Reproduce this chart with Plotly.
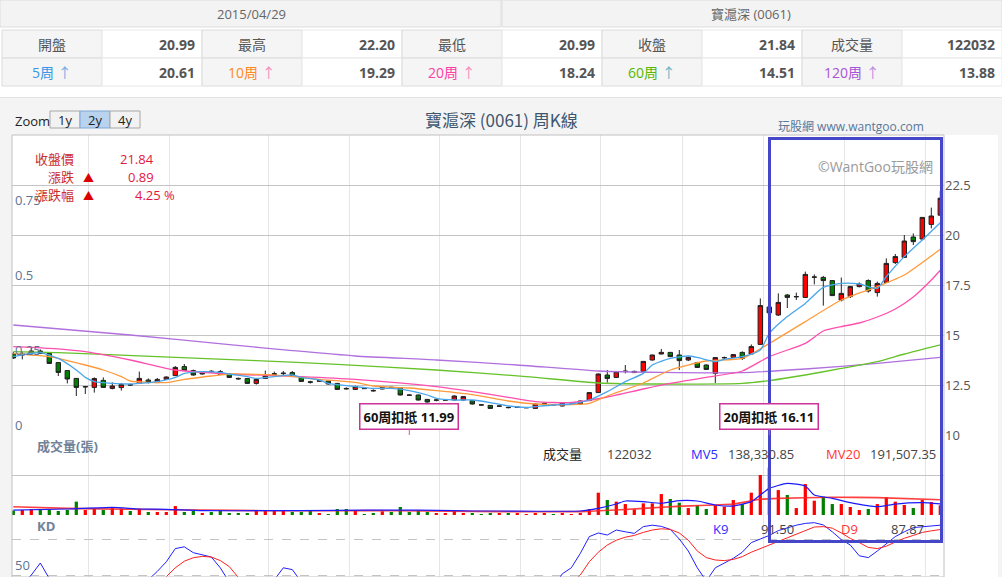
import plotly.graph_objects as go

# 寶滬深 (0061) 周K線 - 2y window, 104 weeks, index 0 = oldest week
opens = [14.05, 14.00, 14.08, 14.20, 14.08, 13.62, 13.22, 12.83, 12.40, 12.38,
         12.73, 12.33, 12.37, 12.52, 12.58, 12.75, 12.62, 12.78, 12.97, 13.42,
         13.22, 13.05, 13.19, 13.17, 13.03, 12.83, 12.82, 12.58, 12.83, 13.04,
         13.07, 13.12, 12.88, 12.66, 12.69, 12.70, 12.58, 12.33, 12.28, 12.33,
         12.23, 12.30, 12.39, 12.37, 12.00, 12.00, 11.78, 11.74, 11.74, 11.75,
         11.75, 11.72, 11.51, 11.48, 11.44, 11.38, 11.38, 11.36, 11.33, 11.57,
         11.51, 11.45, 11.61, 11.55, 11.72, 12.12, 13.00, 12.88, 13.17, 13.12,
         13.18, 13.75, 14.05, 14.13, 14.00, 13.75, 13.62, 13.50, 13.08, 13.86,
         13.88, 14.13, 14.05, 14.53, 16.40, 16.00, 17.00, 16.91, 16.88, 17.89,
         17.88, 17.72, 16.75, 16.92, 17.42, 17.72, 17.12, 17.63, 18.62, 18.88,
         19.90, 19.80, 20.53, 20.99]
highs = [14.15, 14.17, 14.38, 14.28, 14.12, 13.65, 13.25, 12.85, 12.43, 12.88,
         12.88, 12.63, 12.60, 12.56, 13.17, 12.83, 12.85, 12.93, 13.45, 13.55,
         13.27, 13.20, 13.24, 13.25, 13.07, 12.87, 12.85, 12.80, 13.22, 13.17,
         13.20, 13.20, 12.92, 12.71, 12.73, 12.72, 12.60, 12.38, 12.47, 12.35,
         12.28, 12.40, 12.41, 12.40, 12.03, 12.02, 11.80, 11.80, 11.77, 11.98,
         11.95, 11.75, 11.53, 11.50, 11.47, 11.42, 11.40, 11.38, 11.58, 11.63,
         11.53, 11.64, 11.66, 11.72, 12.15, 13.08, 13.25, 13.20, 13.50, 13.22,
         13.70, 14.02, 14.30, 14.15, 14.25, 13.92, 13.66, 13.53, 13.90, 13.92,
         14.05, 14.18, 14.53, 16.83, 16.45, 17.08, 17.05, 17.12, 18.17, 18.03,
         17.95, 17.75, 17.87, 17.45, 17.63, 17.78, 17.67, 18.83, 19.05, 20.00,
         20.08, 20.88, 21.37, 22.20]
lows = [13.80, 13.78, 14.00, 14.05, 13.55, 12.95, 12.58, 11.95, 12.05, 12.12,
        12.37, 12.28, 12.22, 12.45, 12.57, 12.58, 12.60, 12.75, 12.95, 13.20,
        12.97, 13.02, 13.12, 13.00, 12.85, 12.76, 12.55, 12.52, 12.80, 12.97,
        12.97, 12.90, 12.65, 12.57, 12.67, 12.52, 12.25, 12.27, 12.25, 12.30,
        12.17, 12.28, 12.36, 11.98, 11.97, 11.72, 11.62, 11.68, 11.73, 11.73,
        11.72, 11.52, 11.48, 11.32, 11.42, 11.33, 11.36, 11.35, 11.31, 11.53,
        11.48, 11.43, 11.58, 11.53, 11.70, 12.10, 12.62, 12.85, 13.08, 13.10,
        13.15, 13.72, 14.03, 13.90, 13.25, 13.70, 13.35, 13.25, 12.60, 13.80,
        13.85, 13.75, 14.00, 14.50, 16.05, 15.95, 16.35, 16.75, 16.85, 17.53,
        16.47, 16.95, 16.68, 16.85, 17.38, 17.12, 16.92, 17.60, 18.55, 18.85,
        19.50, 19.75, 20.33, 20.99]
closes = [13.85, 14.03, 14.20, 14.08, 13.58, 13.13, 12.80, 12.38, 12.42, 12.82,
          12.38, 12.45, 12.53, 12.50, 12.83, 12.62, 12.78, 12.90, 13.38, 13.22,
          13.00, 13.15, 13.17, 13.03, 12.88, 12.81, 12.58, 12.78, 12.95, 13.06,
          13.09, 12.92, 12.68, 12.64, 12.71, 12.55, 12.28, 12.31, 12.42, 12.32,
          12.21, 12.38, 12.37, 12.00, 11.99, 11.75, 11.65, 11.75, 11.76, 11.95,
          11.92, 11.55, 11.50, 11.33, 11.45, 11.37, 11.39, 11.37, 11.55, 11.58,
          11.50, 11.62, 11.62, 11.70, 12.12, 13.05, 12.83, 13.17, 13.19, 13.18,
          13.68, 14.00, 14.13, 13.92, 13.72, 13.88, 13.38, 13.28, 13.87, 13.87,
          14.02, 13.83, 14.42, 16.47, 16.11, 16.63, 16.88, 16.92, 18.03, 17.90,
          17.72, 16.97, 17.08, 17.42, 17.55, 17.20, 17.58, 18.58, 18.92, 19.70,
          19.67, 20.88, 20.95, 21.84]
volumes = [55000, 62500, 75000, 62500, 71000, 50000, 62500, 167000, 62500, 79000,
           62500, 92000, 79000, 50000, 79000, 37500, 37500, 37500, 112000, 37500,
           50000, 25000, 37500, 50000, 25000, 25000, 25000, 50000, 58000, 50000,
           50000, 37500, 37500, 50000, 25000, 10000, 75000, 75000, 58000, 10000,
           25000, 46000, 37500, 100000, 37500, 58000, 37500, 25000, 25000, 50000,
           25000, 25000, 10000, 25000, 25000, 25000, 25000, 10000, 25000, 25000,
           10000, 25000, 10000, 25000, 75000, 279000, 187000, 167000, 137000, 71000,
           146000, 146000, 262000, 200000, 154000, 87000, 121000, 75000, 121000, 104000,
           187000, 137000, 279000, 500000, 592000, 312000, 250000, 87000, 387000, 179000,
           229000, 137000, 137000, 100000, 62000, 75000, 137000, 221000, 167000, 125000,
           87000, 187000, 162000, 122032]

# moving averages (week index, value)
ma5_x = [0, 2, 3, 5, 7, 8, 9, 11, 13, 14, 16, 18, 19, 21, 23, 24, 26, 27, 29, 31,
         32, 34, 35, 38, 40, 42, 44, 46, 47, 49, 51, 53, 55, 57, 58, 60, 62, 64, 66, 68,
         70, 71, 73, 75, 76, 78, 79, 81, 83, 84, 86, 88, 90, 92, 94, 96, 97, 99, 101, 103]
ma5_y = [13.92, 14.08, 14.12, 13.83, 13.25, 12.88, 12.67, 12.58, 12.55, 12.58,
         12.67, 12.88, 13.08, 13.17, 13.13, 13.05, 12.92, 12.83, 12.92, 13.0,
         12.88, 12.75, 12.58, 12.42, 12.33, 12.33, 12.22, 12.0, 11.83, 11.75,
         11.75, 11.62, 11.45, 11.38, 11.42, 11.5, 11.55, 11.75, 12.17, 12.67,
         13.08, 13.5, 13.83, 13.95, 13.88, 13.67, 13.78, 13.92, 14.25, 15.08,
         15.92, 16.58, 17.38, 17.58, 17.55, 17.33, 17.92, 18.92, 19.75, 20.61]
ma10_x = [0, 2, 4, 8, 10, 12, 13, 17, 19, 22, 24, 30, 34, 38, 40, 44, 47, 51, 55, 58,
          62, 64, 66, 70, 73, 77, 81, 84, 88, 92, 96, 99, 103]
ma10_y = [14.08, 14.0, 13.92, 13.5, 13.25, 12.92, 12.7, 12.62, 12.78, 12.95,
          13.05, 12.97, 12.78, 12.63, 12.45, 12.35, 12.22, 12.02, 11.7, 11.55,
          11.52, 11.58, 11.95, 12.6, 13.25, 13.7, 13.83, 14.58, 15.67, 16.75,
          17.42, 18.0, 19.29]
ma20_x = [0, 4, 8, 13, 18, 24, 32, 38, 47, 51, 55, 58, 62, 66, 70, 73, 77, 81, 84, 88,
          90, 92, 94, 96, 98, 100, 102, 103]
ma20_y = [14.42, 14.33, 14.17, 13.75, 13.25, 13.05, 12.92, 12.78, 12.42, 12.17,
          11.88, 11.67, 11.62, 11.9, 12.3, 12.58, 12.88, 13.2, 13.92, 14.58,
          15.2, 15.42, 15.6, 15.9, 16.3, 16.9, 17.75, 18.24]
ma60_x = [0, 5, 16, 27, 36, 47, 57, 65, 72, 81, 84, 88, 92, 96, 99, 103]
ma60_y = [14.17, 14.12, 13.92, 13.72, 13.53, 13.25, 12.92, 12.6, 12.55, 12.58,
          12.72, 13.0, 13.33, 13.67, 14.05, 14.51]
ma120_x = [0, 13, 24, 31, 38, 47, 56, 65, 72, 81, 88, 96, 103]
ma120_y = [15.5, 15.0, 14.52, 14.22, 13.95, 13.75, 13.5, 13.2, 13.13, 13.12,
           13.3, 13.58, 13.88]

# volume averages
mv5_x = [0, 6, 11, 14, 17, 21, 28, 36, 43, 47, 51, 54, 63, 65, 67, 68, 70, 72, 74, 76,
         78, 80, 82, 83, 84, 86, 88, 89, 91, 93, 96, 98, 101, 103]
mv5_y = [62000, 75000, 96000, 75000, 71000, 54000, 54000, 58000, 62000, 58000,
         50000, 50000, 50000, 83000, 137000, 175000, 167000, 146000, 179000, 175000,
         125000, 112000, 167000, 250000, 333000, 396000, 362000, 250000, 208000, 154000,
         104000, 137000, 154000, 138330.85]
mv20_x = [0, 6, 13, 21, 28, 36, 43, 54, 63, 67, 73, 80, 83, 85, 91, 96, 103]
mv20_y = [104000, 83000, 71000, 62000, 54000, 54000, 54000, 42000, 42000, 62000,
          104000, 137000, 196000, 208000, 221000, 217000, 191507.35]

# KD(9)
k9 = [38, 42, 50, 60, 47, 35, 25, 15, 14, 20,
      24, 22, 26, 30, 38, 46, 53, 61, 72, 73.5,
      68.6, 67, 65, 56, 44, 36, 28, 26, 34, 46,
      56, 54.5, 42, 34, 30, 24, 16, 14, 18, 20,
      18, 22, 24, 14, 12, 8, 6, 10, 12, 20,
      26, 20, 15, 10, 12, 12, 14, 16, 24, 30,
      40, 51, 56, 68, 82, 85, 83.3, 87.5, 86, 84.7,
      90.3, 91.5, 90.5, 88, 80, 70, 56, 45, 56, 60,
      63.9, 69, 77, 80, 83, 87, 89.5, 91.5, 93, 93.6,
      91.7, 86, 79.5, 75, 66, 64.5, 70, 76, 82, 86,
      89.5, 90.2, 90.8, 91.5]
d9 = [45, 44, 46, 48, 47, 44, 38, 30, 25, 23,
      23, 23, 24, 26, 30, 35, 41, 48.6, 56, 61.5,
      64.4, 65.5, 65, 62, 57, 48, 41, 36, 35, 39,
      43, 45, 44, 42, 38, 33, 28, 23, 21, 21,
      20, 21, 22, 19, 17, 14, 11, 11, 11, 14,
      18, 19, 17, 15, 14, 13, 13, 14, 18, 22,
      28, 36, 43, 50, 61, 69, 75, 79, 81.5, 83,
      85.5, 87.5, 88.5, 88, 85, 79, 70, 64.5, 62.5, 62,
      63, 65.3, 69, 72.2, 75, 78, 81, 84, 87, 90,
      90.3, 89, 85, 80.5, 77, 73, 72, 74, 77.5, 80.6,
      83, 85.5, 86.8, 87.87]

# unlabeled month grid lines (in week index units)
month_grid = [8.4, 17.3, 28.3, 37.3, 47.3, 56.4, 65.2, 74.4, 83.3, 92.3, 101.3]
price_ticks = [10, 12.5, 15, 17.5, 20, 22.5]
left_ticks = [0, 0.25, 0.5, 0.75]

weeks = list(range(len(closes)))
n = len(closes)

FONT = "Open Sans, Noto Sans CJK TC"
W, H = 1002, 577
ML, MR, MT, MB = 12, 58, 135, 0
PW, PH = W - ML - MR, H - MT - MB


def px(x):
    return (x - ML) / PW


def py(y):
    return (H - MB - y) / PH


fig = go.Figure()

fig.add_trace(go.Candlestick(
    x=weeks, open=opens, high=highs, low=lows, close=closes,
    increasing=dict(fillcolor="#ff0000", line=dict(color="#202020", width=1)),
    decreasing=dict(fillcolor="#008000", line=dict(color="#202020", width=1)),
    whiskerwidth=0, hoverinfo="skip", xaxis="x", yaxis="y"))

ma_lines = [(ma120_x, ma120_y, "#b070dd"), (ma60_x, ma60_y, "#66c22a"),
            (ma20_x, ma20_y, "#ff4fae"), (ma10_x, ma10_y, "#ff9a3c"),
            (ma5_x, ma5_y, "#4aa6ea")]
for xs, ys, col in ma_lines:
    fig.add_trace(go.Scatter(x=xs, y=ys, mode="lines", xaxis="x", yaxis="y",
                             line=dict(color=col, width=1.3, shape="spline", smoothing=0.6),
                             hoverinfo="skip"))

# dummy trace so the left 0..1 axis is drawn
fig.add_trace(go.Scatter(x=[0], y=[0], mode="markers", marker=dict(opacity=0),
                         xaxis="x", yaxis="y4", hoverinfo="skip"))

vol_colors = ["#ff0000" if c > o else "#008000" for o, c in zip(opens, closes)]
fig.add_trace(go.Bar(x=weeks, y=volumes, width=0.36, marker=dict(color=vol_colors, line_width=0),
                     xaxis="x", yaxis="y2", hoverinfo="skip"))
fig.add_trace(go.Scatter(x=mv20_x, y=mv20_y, mode="lines", xaxis="x", yaxis="y2",
                         line=dict(color="rgba(255,30,30,0.85)", width=1.6, shape="spline", smoothing=0.5),
                         hoverinfo="skip"))
fig.add_trace(go.Scatter(x=mv5_x, y=mv5_y, mode="lines", xaxis="x", yaxis="y2",
                         line=dict(color="#1a1aff", width=1.2, shape="spline", smoothing=0.5),
                         hoverinfo="skip"))

fig.add_trace(go.Scatter(x=weeks, y=k9, mode="lines", xaxis="x", yaxis="y3",
                         line=dict(color="#2020ff", width=1), hoverinfo="skip"))
fig.add_trace(go.Scatter(x=weeks, y=d9, mode="lines", xaxis="x", yaxis="y3",
                         line=dict(color="#ff2020", width=1), hoverinfo="skip"))

grid = "#c4c4c4"
fig.update_layout(
    width=W, height=H, autosize=False,
    margin=dict(l=ML, r=MR, t=MT, b=MB, autoexpand=False),
    paper_bgcolor="#f4f4f4", plot_bgcolor="#ffffff",
    showlegend=False, hovermode=False, dragmode=False,
    font=dict(family=FONT, size=13, color="#333"),
    xaxis=dict(domain=[0, 1], anchor="y3", range=[(ML - 13.3) / 9, (W - MR - 13.3) / 9],
               tickvals=month_grid, showticklabels=False, ticks="",
               showgrid=True, gridcolor="#e6e6e6", zeroline=False, showline=False,
               rangeslider=dict(visible=False), fixedrange=True),
    yaxis=dict(domain=[py(435), 1], anchor="x", side="right", range=[10, 25],
               tickvals=price_ticks, ticktext=[f"{t:g}" for t in price_ticks],
               tickfont=dict(size=13, color="#555"), ticks="", gridcolor=grid,
               zeroline=False, fixedrange=True),
    yaxis4=dict(overlaying="y", anchor="x", side="left", range=[0, 1],
                tickvals=left_ticks, ticktext=[f"{t:g}" for t in left_ticks],
                ticklabelposition="inside top", tickfont=dict(size=13, color="#5b7594"),
                showgrid=False, zeroline=False, ticks="", fixedrange=True),
    yaxis2=dict(domain=[py(515), py(435)], anchor="x", range=[0, 1000000],
                tickvals=[0, 500000, 1000000], showticklabels=False, ticks="",
                gridcolor=grid, zeroline=False, fixedrange=True),
    yaxis3=dict(domain=[0, py(515)], anchor="x", side="left", range=[100 - 62 / 1.2, 100],
                tickvals=[20, 50, 80], ticktext=["20", "50", ""],
                ticklabelposition="inside top", tickfont=dict(size=13, color="#5b7594"),
                gridcolor=grid, griddash="dash", zeroline=False, ticks="", fixedrange=True),
)

shapes = []


def rect(x0, y0, x1, y1, fill=None, line=None, width=1, layer="below"):
    shapes.append(dict(type="rect", xref="paper", yref="paper",
                       x0=px(x0), x1=px(x1), y0=py(y1), y1=py(y0),
                       fillcolor=fill or "rgba(0,0,0,0)",
                       line=dict(color=line or "rgba(0,0,0,0)", width=width if line else 0),
                       layer=layer))


def txt(x, y, s, size=13, color="#333", anchor="left", family=FONT):
    fig.add_annotation(x=px(x), y=py(y), xref="paper", yref="paper", text=s,
                       showarrow=False, xanchor=anchor, yanchor="middle",
                       font=dict(size=size, color=color, family=family))


# quote table above the chart
rect(0, 0, 1002, 97, fill="#ffffff")
rect(0, 0, 501, 27, fill="#f3f3f3", line="#dddddd")
rect(502, 0, 1002, 27, fill="#f3f3f3", line="#dddddd")
txt(251, 14, "2015/04/29", size=13, color="#666", anchor="center")
txt(751, 14, "寶滬深 (0061)", size=13, color="#666", anchor="center")

row2_labels = ["開盤", "最高", "最低", "收盤", "成交量"]
row2_values = [f"{opens[-1]:.2f}", f"{highs[-1]:.2f}", f"{lows[-1]:.2f}",
               f"{closes[-1]:.2f}", f"{volumes[-1]}"]
row3_labels = ["5周", "10周", "20周", "60周", "120周"]
row3_colors = ["#3a97e6", "#ff8a1e", "#ff3fa4", "#5ab800", "#a654d8"]
arrow_colors = ["#6aaee6", "#f58cbc", "#f58cbc", "#5fb6c8", "#b48ce0"]
row3_values = [ma5_y[-1], ma10_y[-1], ma20_y[-1], ma60_y[-1], ma120_y[-1]]
for k in range(5):
    x0 = 2 + 200 * k
    for y0, y1 in [(30, 58), (58, 86)]:
        rect(x0, y0, x0 + 100, y1, fill="#f5f5f5", line="#dcdcdc")
        rect(x0 + 100, y0, x0 + 200, y1, fill="#ffffff", line="#e8e8e8")
    txt(x0 + 50, 44, row2_labels[k], size=14, color="#555", anchor="center")
    txt(x0 + 195, 44, f"<b>{row2_values[k]}</b>", size=14, color="#555", anchor="right")
    lab = (f'<span style="color:{row3_colors[k]}">{row3_labels[k]}</span> '
           f'<span style="color:{arrow_colors[k]}">↑</span>')
    txt(x0 + 50, 72, lab, size=14, anchor="center")
    txt(x0 + 195, 72, f"<b>{row3_values[k]:.2f}</b>", size=14, color="#555", anchor="right")

# chart header
rect(0, 97, 1002, 98, fill="#e2e2e2")
rect(944, 135, 998, 577, fill="#ffffff")
txt(13, 121, "Zoom", size=13, color="#222")
for i, lbl in enumerate(["1y", "2y", "4y"]):
    sel = lbl == "2y"
    rect(50 + 30 * i, 111, 80 + 30 * i, 128, fill="#b9d3ef" if sel else "#f2f2f2",
         line="#7ea6d3" if sel else "#a8a8a8")
    txt(65 + 30 * i, 120, lbl, size=13, color="#222", anchor="center")
txt(501, 120, "寶滬深 (0061) 周K線", size=17, color="#3e576f", anchor="center",
    family="Noto Sans CJK TC")
txt(776, 126, "玩股網 www.wantgoo.com", size=12, color="#58779a")
txt(935, 166, "©WantGoo玩股網", size=14, color="#9a9a9a", anchor="right")

# price info
chg = closes[-1] - closes[-2]
txt(76, 159, "收盤價", color="#cc2d2d", anchor="right")
txt(156, 159, f"{closes[-1]:.2f}", color="#e3173e", anchor="right")
txt(76, 177, "漲跌", color="#cc2d2d", anchor="right")
txt(88, 177, "▲", size=11, color="#dd0000", anchor="center")
txt(156, 177, f"{chg:.2f}", color="#e3173e", anchor="right")
txt(76, 195, "漲跌幅", color="#cc2d2d", anchor="right")
txt(88, 195, "▲", size=11, color="#dd0000", anchor="center")
txt(133, 195, f"{chg / closes[-2] * 100:.2f} %", color="#e3173e")

# volume pane header
txt(35, 446, "<b>成交量(張)</b>", size=13, color="#6f8299")
txt(541, 454, "成交量", size=13, color="#222")
txt(605, 454, f"{volumes[-1]}", size=13, color="#444")
txt(689, 454, "MV5", size=13, color="#2a2aff")
txt(726, 454, f"{mv5_y[-1]:,.2f}", size=13, color="#444")
txt(824, 454, "MV20", size=13, color="#ff3535")
txt(868, 454, f"{mv20_y[-1]:,.2f}", size=13, color="#444")

# KD header
txt(35, 526, "<b>KD</b>", size=13, color="#6f8299")
txt(711, 529, "K9", size=13, color="#2a2aff")
txt(759, 529, f"{k9[-1]:.2f}", size=13, color="#444")
txt(839, 529, "D9", size=13, color="#ff3535")
txt(889, 529, f"{d9[-1]:.2f}", size=13, color="#444")

# deduction flags (close 60 / 20 weeks back)
for back in (60, 20):
    i = n - back
    fig.add_annotation(x=i, y=10, xref="x", yref="y", ax=0, ay=-19,
                       text=f"<b>{back}周扣抵 {closes[i]:.2f}</b>",
                       showarrow=True, arrowhead=0, arrowwidth=1, arrowcolor="#dd55aa",
                       standoff=0, bgcolor="#ffffff", bordercolor="#cc3399",
                       borderwidth=1.5, borderpad=3,
                       font=dict(size=13, color="#111", family=FONT))

# plot frame and highlight box
rect(12, 135, 944, 577, line="#c0c0c0", layer="above")
rect(769.5, 138.5, 941.5, 541.5, line="#4646c8", width=3, layer="above")

fig.update_layout(shapes=shapes)
# page without body margin so the figure fills the window
fig.write_html("out.html", config={"displayModeBar": False, "responsive": False},
               post_script="document.body.style.margin='0';document.body.style.overflow='hidden';")
